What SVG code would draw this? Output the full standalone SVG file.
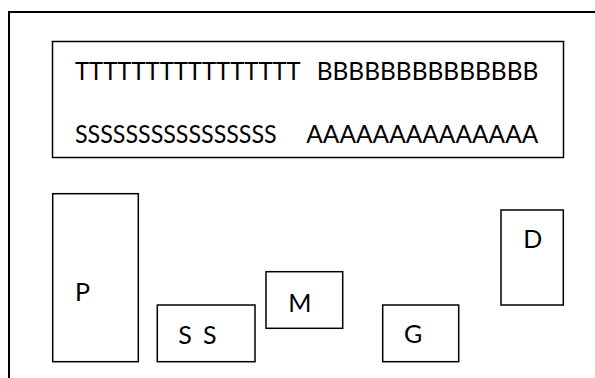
<svg xmlns="http://www.w3.org/2000/svg" width="595" height="378" viewBox="0 0 595 378">
  <style>
    .frame { fill: none; stroke: #000; stroke-width: 2; }
    .box { fill: #fff; stroke: #000; stroke-width: 1.5; }
    .lbl { font-family: Lato, "Open Sans", "Liberation Sans", sans-serif; font-size: 25px; fill: #000; }
  </style>
  <rect width="595" height="378" fill="#fff"/>
  <g id="frame">
    <path class="frame" d="M9,378 V12 H595"/>
  </g>
  <g id="header">
    <rect class="box" x="52.5" y="41.5" width="511" height="116"/>
    <text class="lbl" y="80"><tspan x="75" textLength="225" lengthAdjust="spacingAndGlyphs">TTTTTTTTTTTTTTTT</tspan> <tspan x="316.7" textLength="221.6" lengthAdjust="spacingAndGlyphs">BBBBBBBBBBBBBB</tspan></text>
    <text class="lbl" y="142.5"><tspan x="75" textLength="201.7" lengthAdjust="spacingAndGlyphs">SSSSSSSSSSSSSSSS</tspan>  <tspan x="306.3" textLength="232" lengthAdjust="spacingAndGlyphs">AAAAAAAAAAAAAA</tspan></text>
  </g>
  <g id="node-P">
    <rect class="box" x="52.7" y="193.7" width="85.6" height="168"/>
    <text class="lbl" x="75" y="300.7">P</text>
  </g>
  <g id="node-SS">
    <rect class="box" x="157.3" y="305" width="97.7" height="56.7"/>
    <text class="lbl" y="344"><tspan x="178.3">S</tspan> <tspan x="203">S</tspan></text>
  </g>
  <g id="node-M">
    <rect class="box" x="266" y="271.7" width="76.7" height="56.6"/>
    <text class="lbl" x="288.3" y="311.7">M</text>
  </g>
  <g id="node-G">
    <rect class="box" x="382.7" y="305" width="76" height="56.7"/>
    <text class="lbl" x="404" y="343.3">G</text>
  </g>
  <g id="node-D">
    <rect class="box" x="501" y="210" width="62.3" height="95"/>
    <text class="lbl" x="523.3" y="248.3">D</text>
  </g>
  <g id="connectors"/>
</svg>
